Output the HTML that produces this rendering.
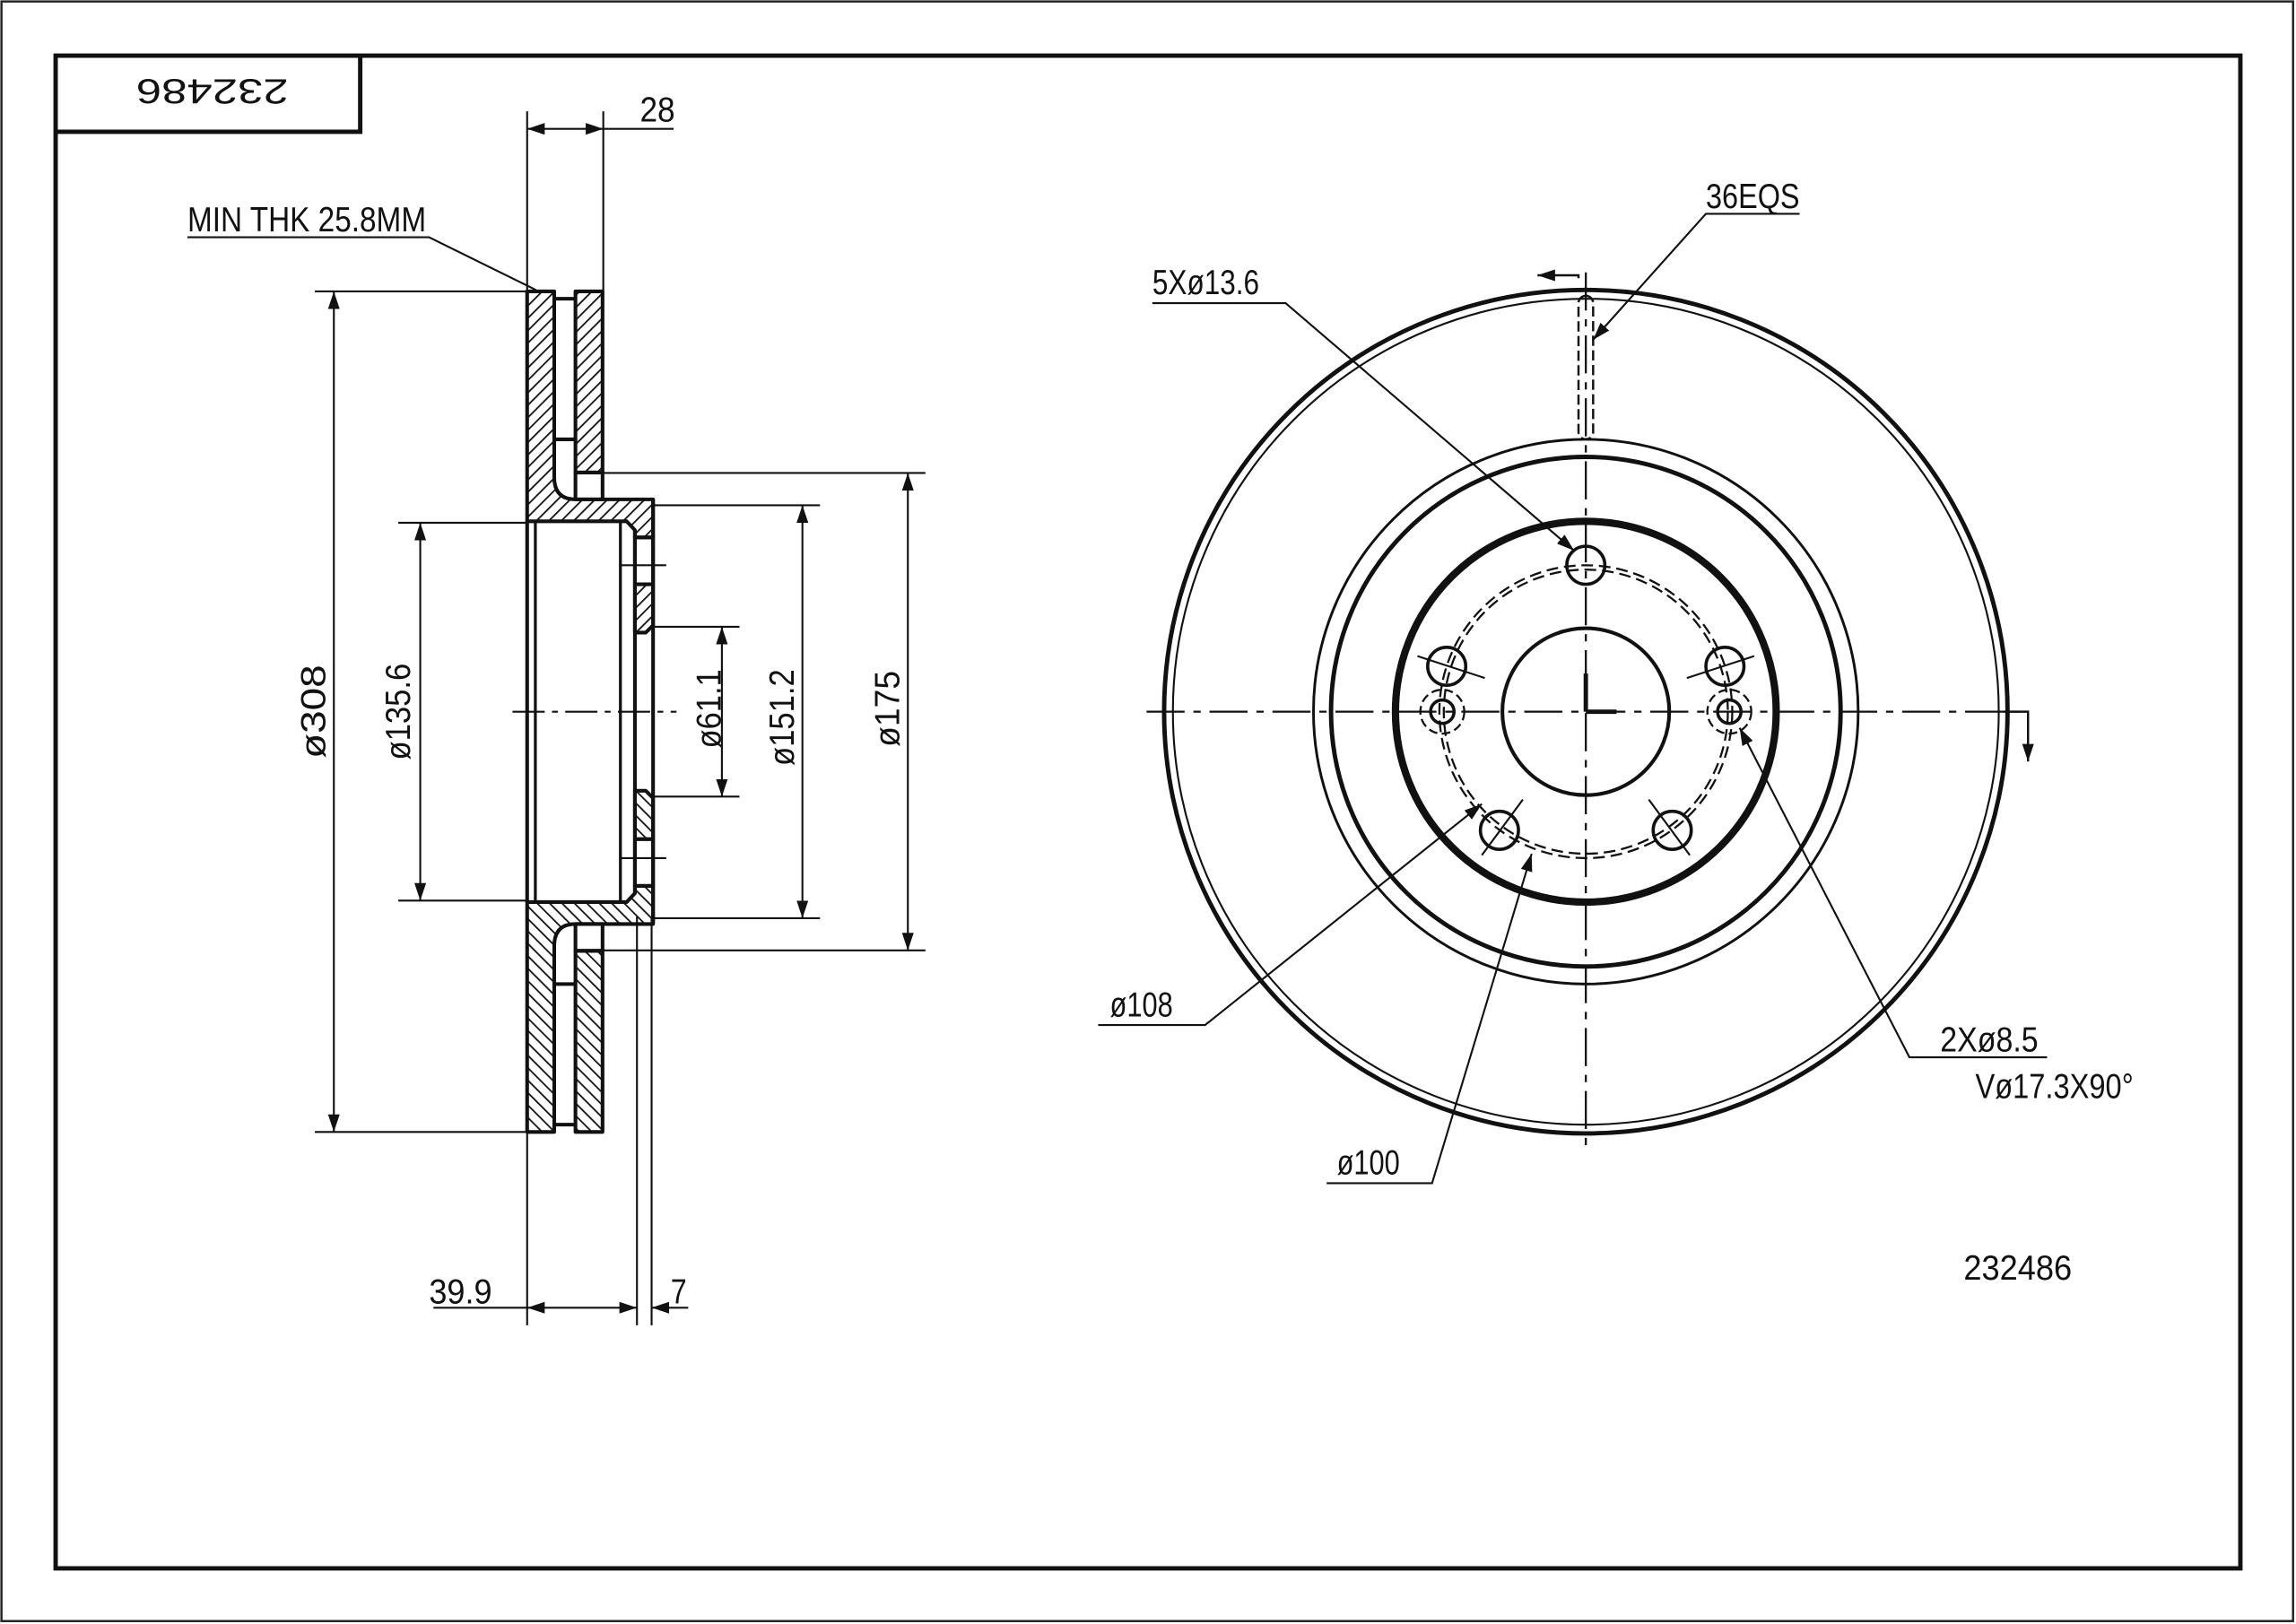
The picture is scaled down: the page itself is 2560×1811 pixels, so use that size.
<!DOCTYPE html>
<html><head><meta charset="utf-8"><style>
html,body{margin:0;padding:0;background:#fff}
svg{display:block}
text{font-family:"Liberation Sans",sans-serif;font-size:24px;fill:#111}
</style></head><body>
<svg width="2560" height="1811" viewBox="0 0 1568 1109" preserveAspectRatio="none" xmlns="http://www.w3.org/2000/svg">
<defs>
<pattern id="h" patternUnits="userSpaceOnUse" width="6" height="6" patternTransform="rotate(45)">
<rect width="6" height="6" fill="#fff"/><line x1="0" y1="0" x2="0" y2="6" stroke="#111" stroke-width="2.2"/>
</pattern>
<marker id="a" viewBox="0 0 12 8" refX="12" refY="4" markerWidth="12" markerHeight="8" markerUnits="userSpaceOnUse" orient="auto-start-reverse">
<path d="M0,0 L12,4 L0,8 z" fill="#111"/></marker>
</defs>
<rect x="0" y="0" width="1568" height="1109" fill="#fff"/>
<rect x="1" y="1" width="1565" height="1106" fill="none" stroke="#222" stroke-width="1.5"/>
<rect x="38" y="38" width="1492" height="1033" fill="none" stroke="#111" stroke-width="3"/>
<polyline points="38,90 246,90 246,38" fill="none" stroke="#111" stroke-width="3"/>
<text x="0" y="0" transform="translate(145,62) rotate(180)" text-anchor="middle" dominant-baseline="central" textLength="104" lengthAdjust="spacingAndGlyphs" font-size="30">232486</text>

<g stroke="#111" stroke-width="2.5" stroke-linejoin="round">
<g id="half">
<path d="M360,199 H378.5 V326 Q378.5,341 393,341 H446 V367 H433.6 V362 L428,356 H360 Z" fill="url(#h)"/>
<rect x="393" y="199" width="18.5" height="123.7" fill="url(#h)"/>
<rect x="393" y="322.7" width="18.5" height="18.3" fill="none"/>
<line x1="378.5" y1="204" x2="393" y2="204"/>
<line x1="378.5" y1="300" x2="393" y2="300"/>
<rect x="433.6" y="367" width="12.4" height="32" fill="none"/>
<path d="M433.6,399 H446 V427 L441,432 H433.6 Z" fill="url(#h)"/>
<line x1="424" y1="386" x2="455" y2="386" stroke-width="1.3"/>
<line x1="411.5" y1="323" x2="632" y2="323" stroke-width="1.3"/>
<line x1="446" y1="345" x2="560" y2="345" stroke-width="1.3"/>
<line x1="446" y1="428" x2="505" y2="428" stroke-width="1.3"/>
<line x1="215" y1="199" x2="360" y2="199" stroke-width="1.3"/>
<line x1="272" y1="357" x2="360" y2="357" stroke-width="1.3"/>
</g>
<use href="#half" transform="translate(0,972) scale(1,-1)"/>
<line x1="360" y1="356" x2="360" y2="616"/>
<line x1="365.6" y1="356" x2="365.6" y2="616" stroke-width="2"/>
<line x1="423.7" y1="356" x2="423.7" y2="616" stroke-width="2"/>
<line x1="433.6" y1="362" x2="433.6" y2="610"/>
<line x1="446" y1="341" x2="446" y2="631"/>
</g>
<line x1="350" y1="486" x2="462" y2="486" stroke="#111" stroke-width="1.3" stroke-dasharray="22,5,4,5"/>

<g stroke="#111" stroke-width="1.3" fill="none">
<line x1="360" y1="76" x2="360" y2="199"/><line x1="412" y1="76" x2="412" y2="199"/>
<line x1="360" y1="88" x2="412" y2="88" marker-start="url(#a)" marker-end="url(#a)"/>
<line x1="412" y1="88" x2="460" y2="88"/>
<line x1="228" y1="199" x2="228" y2="773" marker-start="url(#a)" marker-end="url(#a)"/>
<line x1="287" y1="357" x2="287" y2="615" marker-start="url(#a)" marker-end="url(#a)"/>
<line x1="493" y1="428" x2="493" y2="544" marker-start="url(#a)" marker-end="url(#a)"/>
<line x1="548" y1="345" x2="548" y2="627" marker-start="url(#a)" marker-end="url(#a)"/>
<line x1="620" y1="323" x2="620" y2="649" marker-start="url(#a)" marker-end="url(#a)"/>
<line x1="360" y1="773" x2="360" y2="905"/>
<line x1="435" y1="626" x2="435" y2="905"/>
<line x1="445" y1="626" x2="445" y2="905"/>
<line x1="296" y1="893" x2="360" y2="893"/>
<line x1="360" y1="893" x2="435" y2="893" marker-start="url(#a)" marker-end="url(#a)"/>
<line x1="470" y1="893" x2="445" y2="893" marker-end="url(#a)"/>
<polyline points="128,162 293,162 366,198"/>
</g>
<text x="437" y="83" textLength="24" lengthAdjust="spacingAndGlyphs">28</text>
<text x="128" y="158" textLength="163" lengthAdjust="spacingAndGlyphs">MIN THK 25.8MM</text>
<text x="293" y="890" textLength="43" lengthAdjust="spacingAndGlyphs">39.9</text>
<text x="458" y="890" textLength="11" lengthAdjust="spacingAndGlyphs">7</text>
<text transform="translate(222,486) rotate(-90)" text-anchor="middle" textLength="64" lengthAdjust="spacingAndGlyphs">ø308</text>
<text transform="translate(280,486) rotate(-90)" text-anchor="middle" textLength="66" lengthAdjust="spacingAndGlyphs">ø135.6</text>
<text transform="translate(492,484) rotate(-90)" text-anchor="middle" textLength="54" lengthAdjust="spacingAndGlyphs">ø61.1</text>
<text transform="translate(542,490) rotate(-90)" text-anchor="middle" textLength="66" lengthAdjust="spacingAndGlyphs">ø151.2</text>
<text transform="translate(614,484) rotate(-90)" text-anchor="middle" textLength="52" lengthAdjust="spacingAndGlyphs">ø175</text>

<g fill="none" stroke="#111">
<circle cx="1083" cy="486" r="288" stroke-width="3"/>
<circle cx="1083" cy="486" r="282" stroke-width="1.3"/>
<circle cx="1083" cy="486" r="186" stroke-width="1.8"/>
<circle cx="1083" cy="486" r="174" stroke-width="3"/>
<circle cx="1083" cy="486" r="130" stroke-width="5"/>
<circle cx="1083" cy="486" r="57" stroke-width="2.5"/>
<circle cx="1083" cy="486" r="97" stroke-width="1.4" stroke-dasharray="8,4"/>
<circle cx="1083" cy="486" r="100" stroke-width="1.4" stroke-dasharray="8,4"/>
<g stroke-width="2.2">
<circle cx="1083" cy="386" r="13"/>
<circle cx="1178" cy="455" r="13"/>
<circle cx="1142" cy="567" r="13"/>
<circle cx="1024" cy="567" r="13"/>
<circle cx="988" cy="455" r="13"/>
<circle cx="985" cy="486" r="8"/>
<circle cx="1181" cy="486" r="8"/>
</g>
<circle cx="985" cy="486" r="15" stroke-width="1.4" stroke-dasharray="6,3"/>
<circle cx="1181" cy="486" r="15" stroke-width="1.4" stroke-dasharray="6,3"/>
<g stroke-width="1.3">
<line x1="968" y1="448" x2="1014" y2="463"/>
<line x1="1152" y1="463" x2="1198" y2="448"/>
<line x1="1012" y1="584" x2="1040" y2="546"/>
<line x1="1126" y1="546" x2="1154" y2="584"/>
</g>
<rect x="1078" y="202" width="10" height="98" rx="5" stroke-width="1.5" stroke-dasharray="7,3"/>
<line x1="783" y1="486" x2="1385" y2="486" stroke-width="1.4" stroke-dasharray="26,6,5,6"/>
<line x1="1083" y1="186" x2="1083" y2="785" stroke-width="1.4" stroke-dasharray="26,6,5,6"/>
<line x1="1083" y1="460" x2="1083" y2="486" stroke-width="3"/>
<line x1="1083" y1="486" x2="1104" y2="486" stroke-width="3"/>
<polyline points="1078,190 1078,188 1050,188" stroke-width="1.5" marker-end="url(#a)"/>
<polyline points="1368,486 1385,486 1385,520" stroke-width="1.5" marker-end="url(#a)"/>
<g stroke-width="1.3">
<polyline points="1229,146 1165,146 1088,232" marker-end="url(#a)"/>
<polyline points="787,207 878,207 1075,376" marker-end="url(#a)"/>
<polyline points="750,700 823,700 1012,549" marker-end="url(#a)"/>
<polyline points="906,808 978,808 1046,583" marker-end="url(#a)"/>
<polyline points="1398,722 1304,722 1188,497" marker-end="url(#a)"/>
</g>
</g>
<text x="1165" y="142" textLength="64" lengthAdjust="spacingAndGlyphs">36EQS</text>
<text x="787" y="201" textLength="73" lengthAdjust="spacingAndGlyphs">5Xø13.6</text>
<text x="758" y="694" textLength="43" lengthAdjust="spacingAndGlyphs">ø108</text>
<text x="913" y="802" textLength="43" lengthAdjust="spacingAndGlyphs">ø100</text>
<text x="1325" y="718" textLength="67" lengthAdjust="spacingAndGlyphs">2Xø8.5</text>
<text x="1349" y="750" textLength="108" lengthAdjust="spacingAndGlyphs">Vø17.3X90°</text>
<text x="1341" y="874" textLength="74" lengthAdjust="spacingAndGlyphs">232486</text>
</svg>
</body></html>
